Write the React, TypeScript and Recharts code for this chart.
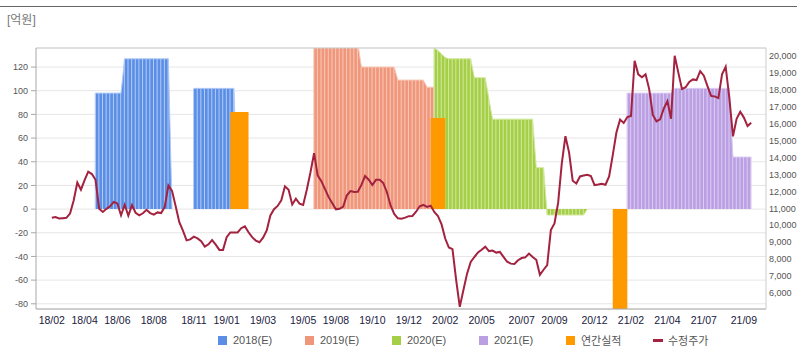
import { Area, Bar, CartesianGrid, ComposedChart, Line, ReferenceLine, XAxis, YAxis } from "recharts";

// Weekly points from 2018/02 to 2021/09. Labels sit on the first week of the shown month.
const tickWeeks = [0, 9, 18, 28, 39, 48, 58, 69, 78, 88, 98, 108, 118, 129, 138, 149, 159, 169, 179, 190];
const tickLabels = [
  "18/02", "18/04", "18/06", "18/08", "18/11", "19/01", "19/03", "19/05", "19/08", "19/10",
  "19/12", "20/02", "20/05", "20/07", "20/09", "20/12", "21/02", "21/04", "21/07", "21/09",
];

// 수정주가 (right axis, 원), one per week
const price = [
  10440, 10490, 10400, 10420, 10440, 10690, 11460, 12520, 12100, 12660,
  13160, 13020, 12680, 10980, 10790, 10970, 11120, 11380, 11290, 10590,
  11210, 10570, 11190, 10740, 10590, 10710, 10910, 10720, 10630, 10760,
  10720, 11080, 12350, 12030, 11120, 10180, 9680, 9110, 9170, 9330,
  9230, 9060, 8740, 8880, 9130, 8860, 8550, 8550, 9300, 9580,
  9580, 9580, 9830, 9940, 9590, 9300, 9100, 9000, 9270, 9700,
  10580, 10950, 11140, 11470, 12300, 12100, 11230, 11570, 11280, 11200,
  12100, 13110, 14250, 12930, 12600, 12130, 11660, 11300, 10940, 10970,
  11100, 11770, 12020, 11960, 11980, 12380, 12900, 12690, 12370, 12680,
  12690, 12490, 11950, 11170, 10670, 10410, 10390, 10450, 10540, 10550,
  10800, 11120, 11200, 11080, 11160, 10790, 10550, 10050, 9220, 8690,
  8590, 6780, 5190, 6190, 7150, 7840, 8130, 8400, 8560, 8740,
  8480, 8510, 8390, 8430, 8140, 7850, 7740, 7720, 7940, 8070,
  8110, 8330, 8130, 7970, 7080, 7380, 7650, 9720, 10110, 11320,
  13630, 15250, 14300, 12630, 12460, 12880, 12940, 12980, 12900, 12370,
  12400, 12450, 12390, 12880, 14140, 15470, 16230, 16030, 16380, 16440,
  19700, 18900, 18730, 18900, 18030, 16510, 16130, 16250, 16880, 17320,
  16280, 20000, 19000, 18030, 18140, 18450, 18600, 18560, 19090, 18820,
  18210, 17630, 17600, 17500, 18900, 19350, 17510, 15240, 16280, 16690,
  16350, 15850, 16050,
];

// 영업이익 컨센서스 (억원), weekly, starting at the given week; null = not published
const est2018Start = 12;
const est2018 = [
  98, 98, 98, 98, 98, 98, 98, 98,
  127, 127, 127, 127, 127, 127, 127, 127, 127, 127, 127, 127, 127, 0,
  null, null, null, null, null,
  102, 102, 102, 102, 102, 102, 102, 102, 102, 102, 102, 102, 0,
];
const est2019Start = 72;
const est2019 = [
  140, 140, 140, 140, 140, 140, 140, 140, 140, 140, 140, 140, 140,
  120, 120, 120, 120, 120, 120, 120, 120, 120, 120,
  109, 109, 109, 109, 109, 109, 109, 109,
  103, 103, 103,
];
const est2020Start = 105;
const est2020 = [
  136, 134, 131, 128,
  127, 127, 127, 127, 127, 127, 127,
  111, 111, 111, 111, 93,
  76, 76, 76, 76, 76, 76, 76, 76, 76, 76, 76, 76,
  35, 35, 35,
  -5, -5, -5, -5, -5, -5, -5, -5, -5, -5, -5, 0,
];
const est2021Start = 158;
const est2021 = [
  98, 98, 98, 98, 98, 98, 98, 98, 98, 98, 98, 98, 98,
  102, 102, 102, 102, 102, 102, 102, 102, 102, 102, 102, 102, 102, 102, 102, 102,
  44, 44, 44, 44, 44, 44,
];

// 연간실적 (억원), shown over a few weeks after the annual report
const actualStarts = [49, 104, 154];
const actualValues = [
  [82, 82, 82, 82, 82, 82],
  [77, 77, 77, 77, 77],
  [-95, -95, -95, -95, -95],
];

const pick = (vals: (number | null)[], start: number, w: number) => vals[w - start] ?? null;
const actualAt = (w: number) => {
  for (let k = 0; k < actualStarts.length; k++) {
    const v = actualValues[k][w - actualStarts[k]];
    if (v !== undefined) return v;
  }
  return null;
};

const rows = price.map((p, w) => ({
  week: w,
  price: p,
  e2018: pick(est2018, est2018Start, w),
  e2019: pick(est2019, est2019Start, w),
  e2020: pick(est2020, est2020Start, w),
  e2021: pick(est2021, est2021Start, w),
  actual: actualAt(w),
}));

const estimates = [
  { key: "e2018", name: "2018(E)", fill: "#5b8fe6", stripe: "#b3cbf5" },
  { key: "e2019", name: "2019(E)", fill: "#f0977b", stripe: "#f8c8b8" },
  { key: "e2020", name: "2020(E)", fill: "#a6cf48", stripe: "#d2e8a0" },
  { key: "e2021", name: "2021(E)", fill: "#bb9fe3", stripe: "#dccdf3" },
];
const ACTUAL = "#ff9900";
const PRICE = "#a3223f";

const legendItems = [
  ...estimates.map((e) => ({ name: e.name, color: e.fill, line: false })),
  { name: "연간실적", color: ACTUAL, line: false },
  { name: "수정주가", color: PRICE, line: true },
];

const pad = { left: 14, right: 13 };
const font = "'Liberation Sans', Arial, 'Noto Sans CJK KR', sans-serif";

export default function App() {
  return (
    <div style={{ position: "absolute", left: 0, top: 0, width: 797, height: 351, background: "#fff", fontFamily: font }}>
      <div style={{ position: "absolute", left: 0, top: 6, width: 797, height: 1, background: "#666" }} />
      <div style={{ position: "absolute", left: 7, top: 10, fontSize: 12, color: "#777" }}>[억원]</div>

      <ComposedChart width={797} height={351} data={rows} margin={{ top: 48, right: 0, bottom: 22, left: 0 }}>
        <CartesianGrid yAxisId="left" vertical={false} stroke="#e6e6e6" />
        <XAxis
          dataKey="week"
          ticks={tickWeeks}
          interval={0}
          tickFormatter={(w) => tickLabels[tickWeeks.indexOf(w)]}
          padding={pad}
          height={20}
          tickLine={false}
          tickSize={8}
          tickMargin={0}
          axisLine={{ stroke: "#a8a8a8" }}
          tick={{ fill: "#202040", fontSize: 10.5 }}
        />
        {estimates.map((e) => (
          <XAxis key={e.key} xAxisId={e.key} dataKey="week" hide padding={pad} />
        ))}
        <YAxis
          yAxisId="left"
          domain={[-84.4, 136.1]}
          allowDataOverflow
          ticks={[-80, -60, -40, -20, 0, 20, 40, 60, 80, 100, 120]}
          width={36}
          tickSize={5}
          tickMargin={3}
          axisLine={{ stroke: "#a8a8a8" }}
          tickLine={{ stroke: "#a8a8a8" }}
          tick={{ fill: "#555", fontSize: 9 }}
        />
        <YAxis
          yAxisId="right"
          orientation="right"
          domain={[5065, 20453]}
          allowDataOverflow
          ticks={[6000, 7000, 8000, 9000, 10000, 11000, 12000, 13000, 14000, 15000, 16000, 17000, 18000, 19000, 20000]}
          tickFormatter={(v) => v.toLocaleString("en-US")}
          width={31}
          tickLine={false}
          tickSize={3}
          tickMargin={0}
          axisLine={{ stroke: "#cccccc" }}
          tick={{ fill: "#555", fontSize: 9 }}
        />

        {estimates.map((e) => (
          <Area
            key={"a" + e.key}
            yAxisId="left"
            type="linear"
            dataKey={e.key}
            name={e.name}
            baseValue={0}
            fill={e.fill}
            fillOpacity={1}
            stroke={e.stripe}
            strokeWidth={1}
            isAnimationActive={false}
          />
        ))}
        {/* thin light bars give the weekly stripes */}
        {estimates.map((e) => (
          <Bar
            key={"b" + e.key}
            xAxisId={e.key}
            yAxisId="left"
            dataKey={e.key}
            barSize={1}
            fill={e.stripe}
            legendType="none"
            isAnimationActive={false}
          />
        ))}
        <Area
          yAxisId="left"
          type="linear"
          dataKey="actual"
          name="연간실적"
          baseValue={0}
          fill={ACTUAL}
          fillOpacity={1}
          stroke="none"
          zIndex={350}
          isAnimationActive={false}
        />
        <Line
          yAxisId="right"
          type="linear"
          dataKey="price"
          name="수정주가"
          stroke={PRICE}
          strokeWidth={2}
          dot={false}
          isAnimationActive={false}
        />
        <ReferenceLine yAxisId="left" y={136.1} stroke="#cccccc" ifOverflow="visible" />
      </ComposedChart>

      <div style={{ position: "absolute", left: 218, top: 332, display: "flex", fontSize: 11, color: "#555" }}>
        {legendItems.map((it) => (
          <div key={it.name} style={{ width: 87, height: 16, display: "flex", alignItems: "center" }}>
            <span
              style={{
                display: "inline-block",
                width: it.line ? 10 : 9,
                height: it.line ? 3 : 9,
                background: it.color,
                marginRight: it.line ? 5 : 6,
              }}
            />
            <span>{it.name}</span>
          </div>
        ))}
      </div>
    </div>
  );
}
